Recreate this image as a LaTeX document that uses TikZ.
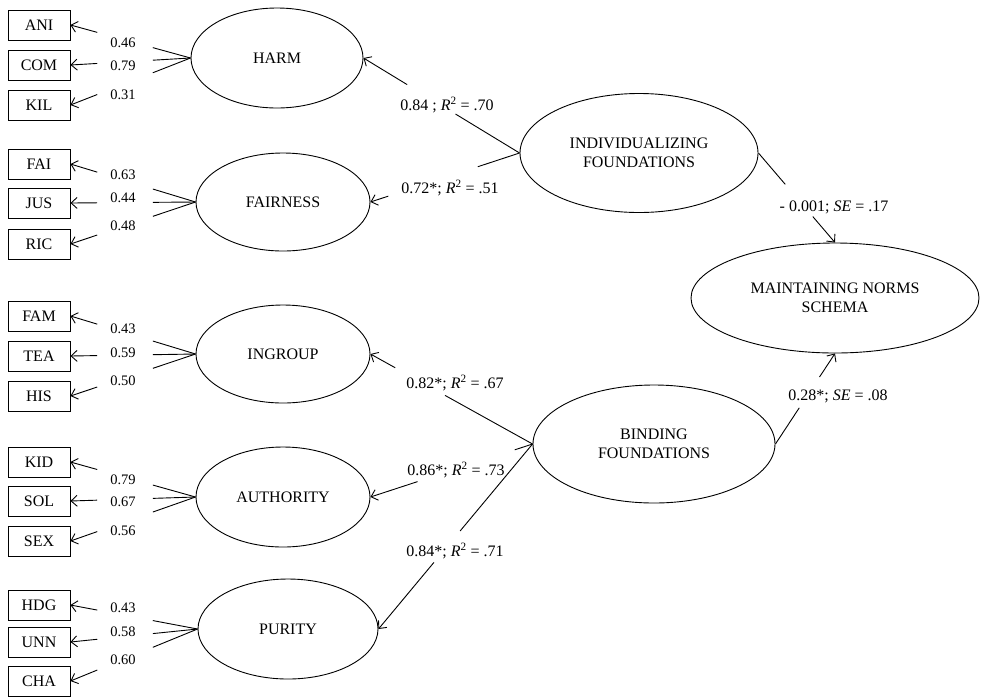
\documentclass[tikz,border=0pt]{standalone}
\usepackage{fontspec}
\setmainfont{Liberation Serif}
\usetikzlibrary{calc,arrows.meta,shapes.geometric}
\newcommand\loadarrow[4]{%
  \draw (#1.west) -- ($(#1.west)!#3!(#2.east)$);
  \draw[arr] ($(#1.west)!#4!(#2.east)$) -- (#2.east);}
\newcommand\patharrow[4]{%
  \draw (#1) -- ($(#1)!#3!(#2)$);
  \draw[arr] ($(#1)!#4!(#2)$) -- (#2);}
\begin{document}
\begin{tikzpicture}[x=1pt,y=-1pt,line width=0.9pt,
  ind/.style={draw,minimum width=62pt,minimum height=30pt,inner sep=0pt,font=\fontsize{16}{19}\selectfont},
  lat/.style={draw,ellipse,inner sep=0pt,align=center,font=\fontsize{16}{19}\selectfont},
  ld/.style={inner sep=0pt,font=\fontsize{14.5}{17}\selectfont},
  sl/.style={inner sep=0pt,font=\fontsize{16}{19}\selectfont},
  arr/.style={-{Straight Barb[length=6pt,width=11pt]}}]
\useasboundingbox (0,0) rectangle (981,697);
% latent variables
\node[lat,minimum width=172pt,minimum height=100pt] (harm) at (277,58) {HARM};
\node[lat,minimum width=174pt,minimum height=98pt] (fair) at (283,202) {FAIRNESS};
\node[lat,minimum width=174pt,minimum height=98pt] (ing) at (283,354) {INGROUP};
\node[lat,minimum width=174pt,minimum height=100pt] (auth) at (283,497) {AUTHORITY};
\node[lat,minimum width=180pt,minimum height=100pt] (pur) at (288,629) {PURITY};
\node[lat,minimum width=238pt,minimum height=119pt] (indf) at (639,153) {INDIVIDUALIZING\\FOUNDATIONS};
\node[lat,minimum width=242pt,minimum height=118pt] (bind) at (654,444) {BINDING\\FOUNDATIONS};
\node[lat,minimum width=288pt,minimum height=110pt] (maint) at (835,298) {MAINTAINING NORMS\\SCHEMA};
% indicators
\node[ind] (ani) at (39,25) {ANI};
\node[ind] (com) at (39,65) {COM};
\node[ind] (kil) at (39,105) {KIL};
\node[ind] (fai) at (39,164) {FAI};
\node[ind] (jus) at (39,203) {JUS};
\node[ind] (ric) at (39,244) {RIC};
\node[ind] (fam) at (39,316) {FAM};
\node[ind] (tea) at (39,356) {TEA};
\node[ind] (his) at (39,396) {HIS};
\node[ind] (kid) at (39,462) {KID};
\node[ind] (sol) at (39,501) {SOL};
\node[ind] (sex) at (39,541) {SEX};
\node[ind] (hdg) at (39,605) {HDG};
\node[ind] (unn) at (39,642) {UNN};
\node[ind] (cha) at (39,681) {CHA};
% loadings connectors
\loadarrow{harm}{ani}{0.314}{0.777}
\loadarrow{harm}{com}{0.314}{0.777}
\loadarrow{harm}{kil}{0.314}{0.777}
\loadarrow{fair}{fai}{0.341}{0.786}
\loadarrow{fair}{jus}{0.341}{0.786}
\loadarrow{fair}{ric}{0.341}{0.786}
\loadarrow{ing}{fam}{0.341}{0.786}
\loadarrow{ing}{tea}{0.341}{0.786}
\loadarrow{ing}{his}{0.341}{0.786}
\loadarrow{auth}{kid}{0.341}{0.786}
\loadarrow{auth}{sol}{0.341}{0.786}
\loadarrow{auth}{sex}{0.341}{0.786}
\loadarrow{pur}{hdg}{0.352}{0.789}
\loadarrow{pur}{unn}{0.352}{0.789}
\loadarrow{pur}{cha}{0.352}{0.789}
% loading labels
\node[ld] (l1) at (123,43) {0.46};
\node[ld] (l2) at (123,66) {0.79};
\node[ld] (l3) at (123,95) {0.31};
\node[ld] (l4) at (123,175) {0.63};
\node[ld] (l5) at (123,198) {0.44};
\node[ld] (l6) at (123,226) {0.48};
\node[ld] (l7) at (123,329) {0.43};
\node[ld] (l8) at (123,353) {0.59};
\node[ld] (l9) at (123,381) {0.50};
\node[ld] (l10) at (123,480) {0.79};
\node[ld] (l11) at (123,502) {0.67};
\node[ld] (l12) at (123,531) {0.56};
\node[ld] (l13) at (123,608) {0.43};
\node[ld] (l14) at (123,632) {0.58};
\node[ld] (l15) at (123,660) {0.60};
% structural connectors
\patharrow{indf.west}{harm.east}{0.41}{0.72}
\patharrow{indf.west}{fair.east}{0.28}{0.88}
\patharrow{bind.west}{ing.east}{0.54}{0.847}
\patharrow{bind.west}{auth.east}{0.11}{0.71}
\patharrow{bind.west}{pur.east}{0.47}{0.64}
\patharrow{indf.east}{maint.north}{0.35}{0.71}
\patharrow{bind.east}{maint.south}{0.40}{0.74}
% structural labels
\node[sl] (s1) at (447,105) {0.84 ; \textit{R}\textsuperscript{2} = .70};
\node[sl] (s2) at (450,188) {0.72*; \textit{R}\textsuperscript{2} = .51};
\node[sl] (s3) at (455,383) {0.82*; \textit{R}\textsuperscript{2} = .67};
\node[sl] (s4) at (456,470) {0.86*; \textit{R}\textsuperscript{2} = .73};
\node[sl] (s5) at (455,551) {0.84*; \textit{R}\textsuperscript{2} = .71};
\node[sl] (s6) at (834,207) {- 0.001; \textit{SE} = .17};
\node[sl] (s7) at (838,396) {0.28*; \textit{SE} = .08};
\end{tikzpicture}
\end{document}
